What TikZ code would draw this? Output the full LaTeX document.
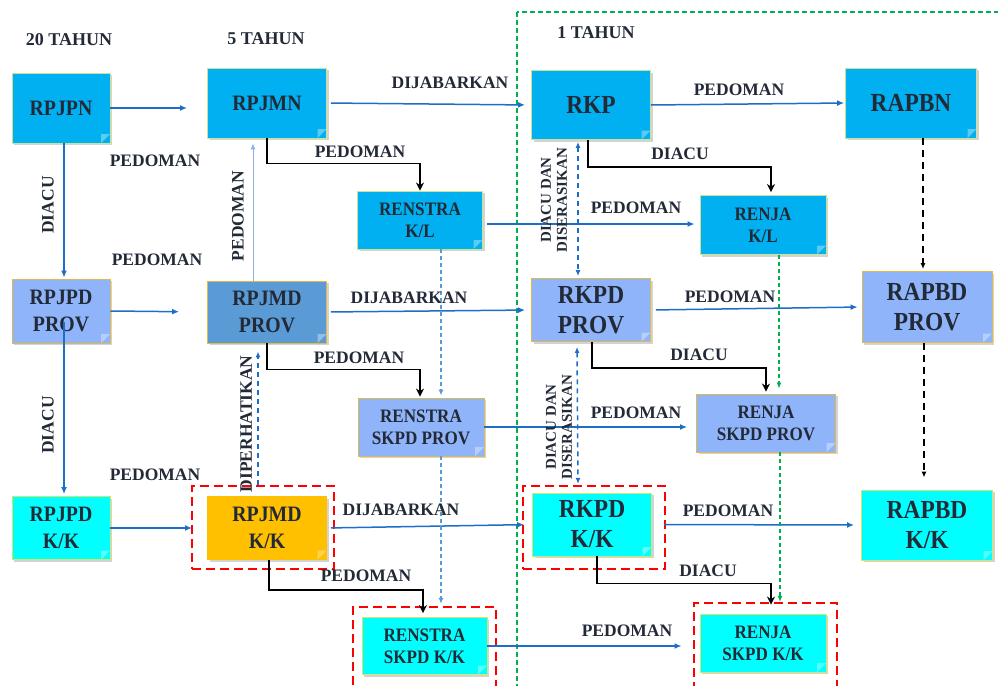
\documentclass[tikz,border=0pt]{standalone}
\usepackage{fontspec}
\setmainfont{Liberation Serif}
\newfontfamily\hurufkotak{Liberation Serif}[FakeStretch=0.9]
\usepackage{tikz}
\usetikzlibrary{positioning,arrows.meta,shadows,calc}
\definecolor{birupusat}{RGB}{0,176,240}
\definecolor{garispusat}{RGB}{200,228,150}
\definecolor{biruprov}{RGB}{143,180,250}
\definecolor{birurpjmd}{RGB}{91,155,213}
\definecolor{garisprov}{RGB}{225,185,70}
\definecolor{cyankk}{RGB}{0,255,255}
\definecolor{gariskk}{RGB}{205,232,100}
\definecolor{oranye}{RGB}{255,192,0}
\definecolor{teksgelap}{RGB}{35,42,55}
\definecolor{garisbiru}{RGB}{28,110,200}
\definecolor{birumuda}{RGB}{140,175,230}
\definecolor{birutengah}{RGB}{91,155,213}
\definecolor{hijaubatas}{RGB}{0,176,80}
\newcommand{\fbesar}{\hurufkotak\fontsize{26}{30}\selectfont\bfseries}
\newcommand{\fsedang}{\hurufkotak\fontsize{22}{27}\selectfont\bfseries}
\newcommand{\fkecil}{\hurufkotak\fontsize{19}{22}\selectfont\bfseries}
\newcommand{\fket}{\fontsize{17.5}{20}\selectfont\bfseries}
\newcommand{\fserasi}{\fontsize{15}{16}\selectfont\bfseries}
\tikzset{kotak/.style={rectangle, line width=0.9pt, text=teksgelap, align=center, inner sep=0pt,
    drop shadow={opacity=0.35, shadow xshift=2pt, shadow yshift=-2pt},
    path picture={\fill[white,opacity=0.35] ([xshift=-9pt]path picture bounding box.south east)
      -- ([xshift=-9pt,yshift=9pt]path picture bounding box.south east)
      -- ([yshift=9pt]path picture bounding box.south east) -- cycle;}},
  ukuran/.style 2 args={minimum width=#1, minimum height=#2},
  pusat/.style={kotak, fill=birupusat, draw=garispusat},
  prov/.style={kotak, fill=biruprov, draw=garisprov},
  kk/.style={kotak, fill=cyankk, draw=gariskk},
  ket/.style={text=teksgelap, font=\fket, inner sep=0pt},
  batasmerah/.style={draw=red, line width=2.2pt, dash pattern=on 9pt off 5pt},
  panah/.style={draw=garisbiru, line width=1.5pt, -{Latex[length=7pt,width=6pt]}},
  siku/.style={draw=black, line width=1.8pt, -{Stealth[length=8pt,width=8pt]}},
  putus/.style={draw=garisbiru, line width=1.5pt, dash pattern=on 5pt off 4pt},
  putusmuda/.style={draw=birutengah, line width=1.3pt, dash pattern=on 4pt off 3pt, -{Latex[length=6pt,width=5pt]}},
  putushijau/.style={draw=hijaubatas, line width=1.4pt, dash pattern=on 4pt off 3pt, -{Latex[length=6pt,width=5pt]}},
  putushitam/.style={draw=black, line width=1.6pt, dash pattern=on 7pt off 5pt, -{Latex[length=6pt,width=5pt]}}}

\begin{document}
\begin{tikzpicture}[x=1pt, y=-1pt]
\useasboundingbox (0,0) rectangle (998,685);
% batas 1 tahun
\draw[hijaubatas, line width=1.5pt, dash pattern=on 5pt off 3pt] (517,12) rectangle (1010,700);

% kotak merah
\node[batasmerah, ukuran={142}{83}] (bataskk1) at (263,527.5) {};
\node[batasmerah, ukuran={142}{83}] (bataskk2) at (594,527.5) {};
\node[batasmerah, ukuran={143}{93}] (bataskk3) at (424.5,653.5) {};
\node[batasmerah, ukuran={143}{97}] (bataskk4) at (765.5,651.5) {};

% judul
\node[ket, font=\fontsize{18}{20}\selectfont\bfseries] (t20) at (69,40) {20 TAHUN};
\node[ket, font=\fontsize{18}{20}\selectfont\bfseries] (t5) at (266,39) {5 TAHUN};
\node[ket, font=\fontsize{18}{20}\selectfont\bfseries] (t1) at (596,33) {1 TAHUN};

% nasional
\node[pusat, ukuran={98}{70}, font=\fsedang] (rpjpn) at (61,108) {RPJPN};
\node[pusat, ukuran={119}{70}, font=\fsedang] (rpjmn) at (267,103) {RPJMN};
\node[pusat, ukuran={119}{69}, font=\fbesar] (rkp) at (591,105) {RKP};
\node[pusat, ukuran={131}{70}, font=\fbesar] (rapbn) at (911,103) {RAPBN};
\node[pusat, ukuran={125}{58}, font=\fkecil] (renstrakl) at (420,220) {RENSTRA\\K/L};
\node[pusat, ukuran={126}{59}, font=\fkecil] (renjakl) at (763,225) {RENJA\\K/L};

% provinsi
\node[prov, ukuran={98}{64}, font=\fsedang] (rpjpdprov) at (61,311) {RPJPD\\PROV};
\node[prov, fill=birurpjmd, ukuran={119}{62}, font=\fsedang] (rpjmdprov) at (267,312) {RPJMD\\PROV};
\node[prov, ukuran={119}{63}, font=\fbesar] (rkpdprov) at (591,310) {RKPD\\PROV};
\node[prov, ukuran={130}{71}, font=\fbesar] (rapbdprov) at (927,307) {RAPBD\\PROV};
\node[prov, ukuran={126}{58}, font=\fkecil] (renstraskpdprov) at (421,427) {RENSTRA\\SKPD PROV};
\node[prov, ukuran={139}{58}, font=\fkecil] (renjaskpdprov) at (766,423) {RENJA\\SKPD PROV};

% kabupaten/kota
\node[kk, ukuran={98}{63}, font=\fsedang] (rpjpdkk) at (61,528) {RPJPD\\K/K};
\node[kk, fill=oranye, draw=oranye, ukuran={119}{63}, font=\fsedang] (rpjmdkk) at (267,528) {RPJMD\\K/K};
\node[kk, ukuran={119}{63}, font=\fbesar] (rkpdkk) at (592,524.5) {RKPD\\K/K};
\node[kk, ukuran={131}{70}, font=\fbesar] (rapbdkk) at (927,525) {RAPBD\\K/K};
\node[kk, ukuran={125}{57}, font=\fkecil] (renstraskpdkk) at (424.5,646) {RENSTRA\\SKPD K/K};
\node[kk, ukuran={126}{58}, font=\fkecil] (renjaskpdkk) at (763,643) {RENJA\\SKPD K/K};

% panah biru
\draw[panah, shorten >=20pt] (rpjpn.east) -- (rpjpn.east -| rpjmn.west);
\draw[panah, shorten <=4pt, shorten >=6pt] (rpjmn.east) -- (rkp.west);
\draw[panah, shorten >=1pt] (rkp.east) -- (rapbn.west);
\draw[panah, shorten >=1pt] ([xshift=3pt]rpjpn.south) -- ([xshift=3pt]rpjpdprov.north);
\draw[panah, shorten >=2pt] ([xshift=3pt,yshift=-11pt]rpjpdprov.center) -- ([xshift=3pt]rpjpdkk.north);
\draw[panah, shorten >=28pt] (rpjpdprov.east) -- (rpjmdprov.west);
\draw[panah, shorten >=15pt] (rpjpdkk.east) -- (rpjmdkk.west);
\draw[panah, shorten <=4pt, shorten >=6pt] (rpjmdprov.east) -- (rkpdprov.west);
\draw[panah, shorten <=4pt, shorten >=8pt] (rpjmdkk.east) -- (rkpdkk.west);
\draw[panah, shorten <=5pt, shorten >=4pt] (rkpdprov.east) -- (rapbdprov.west);
\draw[panah, shorten <=12pt, shorten >=7pt] (rkpdkk.east) -- (rapbdkk.west);
\draw[panah, shorten <=4pt, shorten >=5pt] ([yshift=-4pt]renstrakl.east) -- ([yshift=-4pt]renstrakl.east -| renjakl.west);
\draw[panah, shorten >=9pt] (renstraskpdprov.east) -- (renstraskpdprov.east -| renjaskpdprov.west);
\draw[panah, shorten >=18pt] (renstraskpdkk.east) -- (renstraskpdkk.east -| renjaskpdkk.west);
\draw[draw=birumuda, line width=1pt, -{Latex[length=6pt,width=5pt]}, shorten >=5pt] ([xshift=-14pt]rpjmdprov.north) -- ([xshift=-14pt]rpjmn.south);

% panah siku
\draw[siku] (rpjmn.south) -- ++(0,25) -| (renstrakl.north);
\draw[siku, shorten >=1pt] (rpjmdprov.south) -- ++(0,26) -| ([xshift=-1pt]renstraskpdprov.north);
\draw[siku, shorten >=4pt] ([xshift=2pt]rpjmdkk.south) -- ++(0,30) -| ([xshift=-1.5pt]renstraskpdkk.north);
\draw[siku, shorten >=3pt] ([xshift=-3pt]rkp.south) -- ++(0,27) -| ([xshift=8pt]renjakl.north);
\draw[siku, shorten >=2pt] ([xshift=1pt]rkpdprov.south) -- ++(0,26) -| (renjaskpdprov.north);
\draw[siku, shorten >=9pt] ([xshift=5pt]rkpdkk.south) -- ++(0,27) -| ([xshift=8pt]renjaskpdkk.north);

% panah putus-putus
\draw[putus, -{Latex[length=6pt,width=5pt]}, shorten >=8pt] ([xshift=-5pt]bataskk1.north) -- ([xshift=-9pt]rpjmdprov.south);
\draw[putus, {Latex[length=6pt,width=5pt]}-{Latex[length=6pt,width=5pt]}, shorten <=2pt, shorten >=2pt] ([xshift=-13pt]rkp.south) -- ([xshift=-13pt]rkpdprov.north);
\draw[putus, {Latex[length=6pt,width=5pt]}-{Latex[length=6pt,width=5pt]}, shorten <=5pt, shorten >=1pt] ([xshift=-14pt]rkpdprov.south) -- ([xshift=-16pt]bataskk2.north);
\draw[putusmuda, shorten >=2pt] ([xshift=21pt]renstrakl.south) -- ([xshift=20pt]renstraskpdprov.north);
\draw[putusmuda, shorten >=2pt] ([xshift=20pt]renstraskpdprov.south) -- ([xshift=16.5pt]bataskk3.north);
\draw[putushijau, shorten >=5pt] ([xshift=16pt]renjakl.south) -- ([xshift=13pt]renjaskpdprov.north);
\draw[putushijau] ([xshift=14pt]renjaskpdprov.south) -- ([xshift=14.5pt]bataskk4.north);
\draw[putushitam, shorten >=2pt] ([xshift=12pt]rapbn.south) -- ([xshift=-4pt]rapbdprov.north);
\draw[putushitam, shorten >=12pt] ([xshift=-3pt]rapbdprov.south) -- ([xshift=-3pt]rapbdkk.north);

% keterangan
\node[ket] (k1) at (155,161) {PEDOMAN};
\node[ket] (k2) at (450,83) {DIJABARKAN};
\node[ket] (k3) at (739,90) {PEDOMAN};
\node[ket] (k4) at (360,152) {PEDOMAN};
\node[ket] (k5) at (680,154) {DIACU};
\node[ket] (k6) at (636,208) {PEDOMAN};
\node[ket, rotate=90] (k7) at (48,205) {DIACU};
\node[ket, rotate=90] (k8) at (238,216) {PEDOMAN};
\node[ket, rotate=90, font=\fserasi, align=center] (k9) at (554,200) {DIACU DAN\\DISERASIKAN};
\node[ket] (k10) at (157,260) {PEDOMAN};
\node[ket] (k11) at (409,298) {DIJABARKAN};
\node[ket] (k12) at (730,297) {PEDOMAN};
\node[ket] (k13) at (359,358) {PEDOMAN};
\node[ket] (k14) at (699,355) {DIACU};
\node[ket] (k15) at (636,413) {PEDOMAN};
\node[ket, rotate=90] (k16) at (48,425) {DIACU};
\node[ket, rotate=90] (k17) at (246,424) {DIPERHATIKAN};
\node[ket, rotate=90, font=\fserasi, align=center] (k18) at (559,427) {DIACU DAN\\DISERASIKAN};
\node[ket] (k19) at (155,475) {PEDOMAN};
\node[ket] (k20) at (401,510) {DIJABARKAN};
\node[ket] (k21) at (728,511) {PEDOMAN};
\node[ket] (k22) at (366,576) {PEDOMAN};
\node[ket] (k23) at (708,571) {DIACU};
\node[ket] (k24) at (627,631) {PEDOMAN};
\end{tikzpicture}
\end{document}
